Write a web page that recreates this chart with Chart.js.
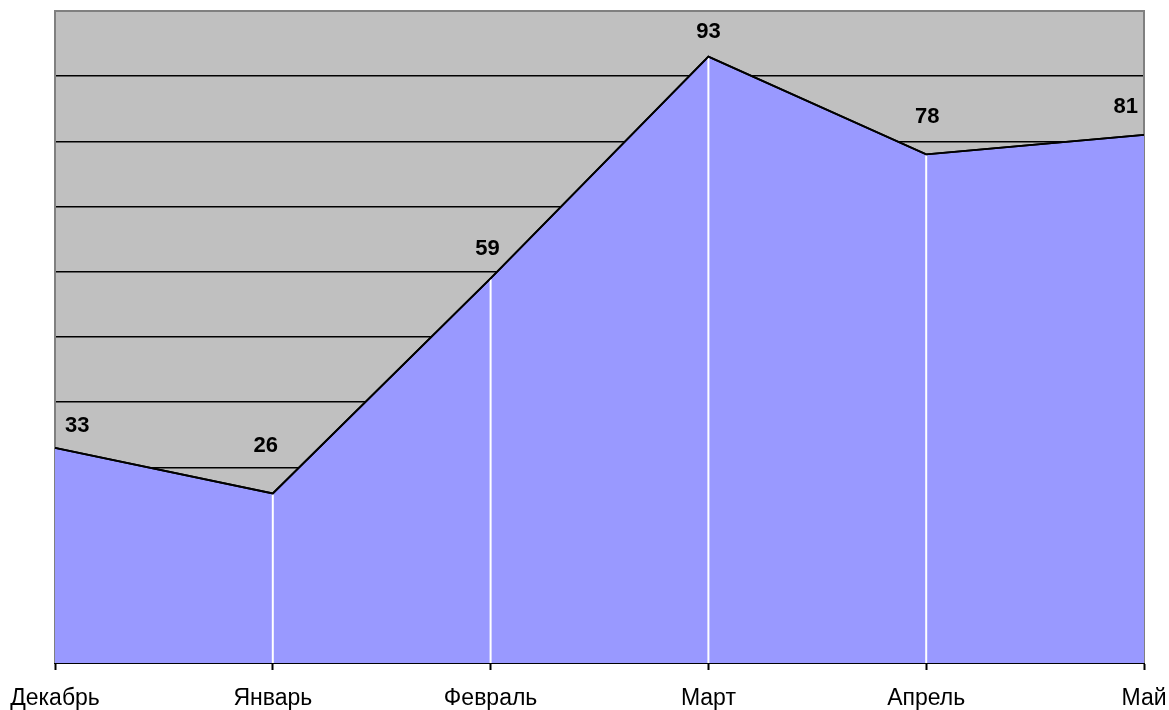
<!DOCTYPE html>
<html>
<head>
<meta charset="utf-8">
<script src="https://cdn.jsdelivr.net/npm/chart.js@4/dist/chart.umd.min.js"></script>
<style>
  html, body { margin: 0; padding: 0; background: #fff; }
  #wrap { width: 1169px; height: 710px; }
</style>
</head>
<body>
<div id="wrap"><canvas id="c" width="1169" height="710"></canvas></div>
<script>
const categories = ['Декабрь', 'Январь', 'Февраль', 'Март', 'Апрель', 'Май'];
const values = [33, 26, 59, 93, 78, 81];
const yMin = 0;
const yMax = 100;
const yStep = 10;

const FONT = '"Liberation Sans", Arial, sans-serif';

const plotBg = {
  id: 'plotBg',
  beforeDraw(chart) {
    const { ctx, chartArea: a } = chart;
    ctx.save();
    ctx.fillStyle = '#C0C0C0';
    ctx.fillRect(a.left, a.top, a.right - a.left, a.bottom - a.top);
    ctx.restore();
  },
  beforeDatasetsDraw(chart) {
    const { ctx, chartArea: a } = chart;
    ctx.save();
    ctx.strokeStyle = '#808080';
    ctx.lineWidth = 2;
    ctx.beginPath();
    ctx.moveTo(a.left, a.bottom);
    ctx.lineTo(a.left, a.top);
    ctx.lineTo(a.right, a.top);
    ctx.lineTo(a.right, a.bottom);
    ctx.stroke();
    ctx.restore();
  }
};

const dropLines = {
  id: 'dropLines',
  afterDatasetsDraw(chart) {
    const { ctx, chartArea: a } = chart;
    const meta = chart.getDatasetMeta(0);
    ctx.save();
    ctx.strokeStyle = '#FFFFFF';
    ctx.lineWidth = 2;
    meta.data.forEach((pt, i) => {
      if (i === 0 || i === meta.data.length - 1) return;
      ctx.beginPath();
      ctx.moveTo(pt.x, pt.y + 1);
      ctx.lineTo(pt.x, a.bottom);
      ctx.stroke();
    });
    ctx.strokeStyle = '#000';
    ctx.lineWidth = 1.8;
    ctx.beginPath();
    meta.data.forEach((pt, i) => { if (i === 0) ctx.moveTo(pt.x, pt.y); else ctx.lineTo(pt.x, pt.y); });
    ctx.stroke();
    ctx.restore();
  }
};

const valueLabels = {
  id: 'valueLabels',
  afterDraw(chart, args, opts) {
    const { ctx, chartArea: a } = chart;
    const meta = chart.getDatasetMeta(0);
    const ds = chart.data.datasets[0].data;
    ctx.save();
    ctx.font = 'bold 22px ' + FONT;
    ctx.fillStyle = '#000';
    ctx.textAlign = 'center';
    ctx.textBaseline = 'middle';
    meta.data.forEach((pt, i) => {
      const txt = String(ds[i]);
      const w = ctx.measureText(txt).width;
      let x = pt.x + (opts.dx[i] || 0);
      x = Math.max(a.left + 10 + w / 2, Math.min(a.right - 6 - w / 2, x));
      const y = pt.y - opts.dy[i];
      ctx.fillText(txt, x, y);
    });
    ctx.restore();
  }
};

new Chart(document.getElementById('c'), {
  type: 'line',
  data: {
    labels: categories,
    datasets: [{
      data: values,
      borderColor: '#000000',
      borderWidth: 1.8,
      backgroundColor: '#9999FF',
      fill: 'origin',
      tension: 0,
      pointRadius: 0,
      pointHoverRadius: 0
    }]
  },
  options: {
    responsive: false,
    animation: false,
    events: [],
    layout: { padding: { left: 55, right: 25, top: 11, bottom: 0 } },
    plugins: {
      legend: { display: false },
      tooltip: { enabled: false },
      valueLabels: {
        dx: [0, -7, -3, 0, 1, 0],
        dy: [22, 48, 29, 25, 38, 28]
      }
    },
    scales: {
      x: {
        type: 'category',
        offset: false,
        afterFit(scale) { scale.height = 47; scale.paddingLeft = 0; scale.paddingRight = 0; },
        grid: { display: true, drawOnChartArea: false, drawTicks: true, tickLength: 7, tickColor: '#000', tickWidth: 2 },
        border: { display: true, color: '#000', width: 2 },
        ticks: { color: '#000', font: { family: FONT, size: 23, lineHeight: 0.8 }, padding: 19, maxRotation: 0, autoSkip: false }
      },
      y: {
        min: yMin,
        max: yMax,
        ticks: { display: false, stepSize: yStep },
        border: { display: false },
        grid: {
          drawTicks: false,
          lineWidth: 1.5,
          color: (c) => (c.tick && (c.tick.value === yMax || c.tick.value === yMin)) ? 'rgba(0,0,0,0)' : '#000'
        }
      }
    }
  },
  plugins: [plotBg, dropLines, valueLabels]
});
</script>
</body>
</html>
